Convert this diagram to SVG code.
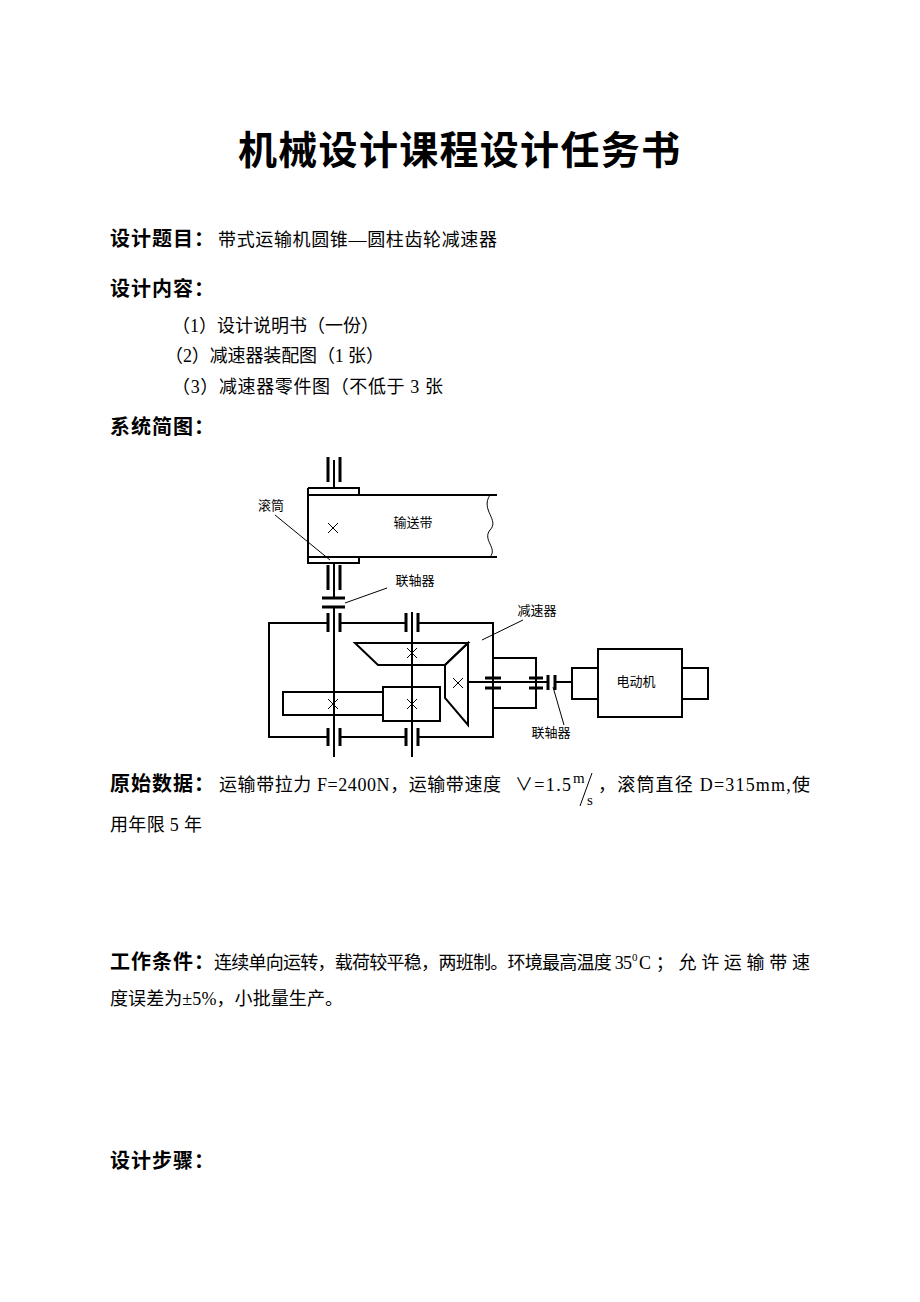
<svg xmlns="http://www.w3.org/2000/svg" width="920" height="1302" viewBox="0 0 920 1302">
<style>
.t{font-family:"Liberation Serif","Noto Sans CJK SC",serif;font-size:18px;fill:#000}
.b{font-family:"Noto Sans CJK SC",sans-serif;font-size:20px;font-weight:bold;fill:#000}
.s{font-family:"Liberation Serif","Noto Sans CJK SC",serif;font-size:13px;fill:#000}
.l{stroke:#000;stroke-width:2;fill:none}
.k{stroke:#000;stroke-width:1;fill:none}
.bar{stroke:#000;stroke-width:3;fill:none}
</style>
<rect width="920" height="1302" fill="#fff"/>
<text x="459" y="164" text-anchor="middle" textLength="442" style="font-family:'Noto Sans CJK SC',sans-serif;font-size:39px;font-weight:bold">机械设计课程设计任务书</text>
<text class="b" x="110" y="246" textLength="104">设计题目：</text><text class="t" x="218" y="246" textLength="279">带式运输机圆锥—圆柱齿轮减速器</text>
<text class="b" x="110" y="296" textLength="104">设计内容：</text>
<text class="t" x="172" y="332" textLength="207">（1）设计说明书（一份）</text>
<text class="t" x="165" y="362" textLength="219">（2）减速器装配图（1 张）</text>
<text class="t" x="172" y="393" textLength="271">（3）减速器零件图（不低于 3 张</text>
<text class="b" x="110" y="434" textLength="104">系统简图：</text>

<g id="conveyor">
<path class="l" d="M308,488 H359 V496 M308,488 V563 H359 V557 M308,495 H497 M308,557 H497"/>
<path class="k" d="M490,495 C480,510 500,520 490,530 C482,540 498,548 490,557"/>
<path class="k" d="M328,523 l10,10 m0,-10 l-10,10"/>
<text class="s" x="413" y="527" text-anchor="middle">输送带</text>
<text class="s" x="271" y="510" text-anchor="middle">滚筒</text>
<path class="k" d="M275,515 L330,560"/>
<path class="bar" d="M328,457 V482 M340,457 V482 M328,565 V590 M340,565 V590"/>
<path class="l" d="M334,460 V488 M334,563 V598"/>
</g>
<g id="coupling1">
<path class="bar" d="M322,598 H345 M322,607 H345"/>
<text class="s" x="415" y="585" text-anchor="middle">联轴器</text>
<path class="k" d="M345,603 L387,588"/>
</g>
<g id="reducer">
<path class="l" d="M328,623 H269 V737 H328 M340,623 H406 M418,623 H493 V737 H418 M406,737 H340"/>
<path class="bar" d="M328,613 V632 M340,613 V632 M406,613 V632 M418,613 V632 M328,728 V746 M340,728 V746 M406,728 V746 M418,728 V746"/>
<path class="l" d="M334,607 V757 M412,612 V757"/>
<polygon class="l" fill="#fff" points="355,643 468,643 445,665 378,665"/>
<polygon class="l" fill="#fff" points="468,643 445,665 445,698 468,725"/>
<rect class="l" fill="#fff" x="283" y="692" width="100" height="23"/>
<rect class="l" fill="#fff" x="383" y="687" width="57" height="34"/>
<path class="k" d="M407,648 l10,10 m0,-10 l-10,10 M453,678 l10,10 m0,-10 l-10,10 M328,699 l10,10 m0,-10 l-10,10 M407,699 l10,10 m0,-10 l-10,10"/>
<path class="l" d="M468,682 H547 M493,658 H536 V708 H493"/>
<path class="bar" d="M485,678 H501 M485,688 H501 M529,678 H543 M529,688 H543"/>
<text class="s" x="537" y="615" text-anchor="middle">减速器</text>
<path class="k" d="M523,620 L482,640"/>
</g>
<g id="coupling2">
<path class="bar" d="M548,675 V690 M555,675 V690"/>
<path class="l" d="M555,682 H572"/>
<text class="s" x="551" y="737" text-anchor="middle">联轴器</text>
<path class="k" d="M553,687 L564,725"/>
</g>
<g id="motor">
<rect class="l" x="572" y="668" width="26" height="31"/>
<rect class="l" x="598" y="649" width="84" height="68"/>
<rect class="l" x="682" y="668" width="26" height="31"/>
<text class="s" x="636" y="686" text-anchor="middle">电动机</text>
</g>

<text class="b" x="110" y="791" textLength="104">原始数据：</text>
<text class="t" x="219" y="791" textLength="282">运输带拉力 F=2400N，运输带速度</text>
<text class="t" x="515" y="791" textLength="56">∨=1.5</text>
<text class="t" x="573" y="783" style="font-size:15px">m</text>
<path class="k" d="M592,773 L580,806"/>
<text class="t" x="587" y="805" style="font-size:15px">s</text>
<text class="t" x="598" y="791" textLength="212">，滚筒直径 D=315mm,使</text>
<text class="t" x="110" y="831" textLength="92">用年限 5 年</text>
<text class="b" x="110" y="969" textLength="104">工作条件：</text>
<text class="t" x="214" y="969" textLength="418">连续单向运转，载荷较平稳，两班制。环境最高温度 35</text>
<text class="t" x="632" y="961" style="font-size:11px">0</text>
<text class="t" x="639" y="969" textLength="171">C；允许运输带速</text>
<text class="t" x="110" y="1005" textLength="233">度误差为±5%，小批量生产。</text>
<text class="b" x="110" y="1168" textLength="104">设计步骤：</text>
</svg>
